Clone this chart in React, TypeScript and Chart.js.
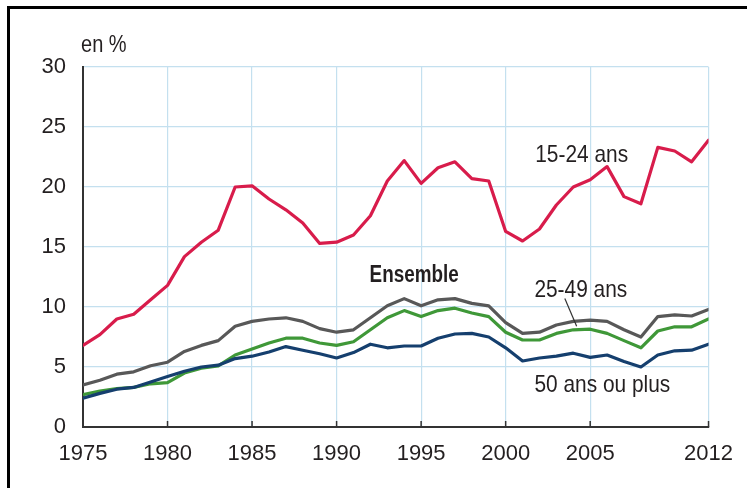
import { useEffect, useRef } from "react";
import { Chart, registerables } from "chart.js";

Chart.register(...registerables);

const years = [
  1975, 1976, 1977, 1978, 1979, 1980, 1981, 1982, 1983, 1984,
  1985, 1986, 1987, 1988, 1989, 1990, 1991, 1992, 1993, 1994,
  1995, 1996, 1997, 1998, 1999, 2000, 2001, 2002, 2003, 2004,
  2005, 2006, 2007, 2008, 2009, 2010, 2011, 2012,
];

const jeunes = [
  6.8, 7.7, 9.0, 9.4, 10.6, 11.8, 14.2, 15.4, 16.4, 20.0,
  20.1, 19.0, 18.1, 17.0, 15.3, 15.4, 16.0, 17.6, 20.5, 22.2,
  20.3, 21.6, 22.1, 20.7, 20.5, 16.3, 15.5, 16.5, 18.5, 20.0,
  20.6, 21.7, 19.2, 18.6, 23.3, 23.0, 22.1, 23.9,
];

const ensemble = [
  3.5, 3.9, 4.4, 4.6, 5.1, 5.4, 6.3, 6.8, 7.2, 8.4,
  8.8, 9.0, 9.1, 8.8, 8.2, 7.9, 8.1, 9.1, 10.1, 10.7,
  10.1, 10.6, 10.7, 10.3, 10.1, 8.7, 7.8, 7.9, 8.5, 8.8,
  8.9, 8.8, 8.1, 7.5, 9.2, 9.35, 9.25, 9.8,
];

const adultes = [
  2.7, 3.0, 3.2, 3.3, 3.6, 3.7, 4.5, 4.9, 5.1, 6.0,
  6.5, 7.0, 7.4, 7.4, 7.0, 6.8, 7.1, 8.1, 9.1, 9.7,
  9.2, 9.7, 9.9, 9.5, 9.2, 7.9, 7.25, 7.25, 7.8, 8.1,
  8.15, 7.8, 7.2, 6.6, 8.0, 8.35, 8.35, 9.0,
];

const seniors = [
  2.4, 2.8, 3.15, 3.3, 3.75, 4.2, 4.65, 5.0, 5.15, 5.7,
  5.9, 6.25, 6.7, 6.4, 6.1, 5.75, 6.2, 6.9, 6.6, 6.75,
  6.75, 7.4, 7.75, 7.8, 7.5, 6.6, 5.5, 5.75, 5.9, 6.15,
  5.8, 6.0, 5.45, 5.0, 6.0, 6.35, 6.4, 6.9,
];

const xTickYears = [1975, 1980, 1985, 1990, 1995, 2000, 2005, 2012];
const yTicks = [0, 5, 10, 15, 20, 25, 30];

const FONT = "'Liberation Sans', Arial, Helvetica, sans-serif";
const TEXT = "#231f20";

// annotation texts placed in data coordinates
const annotations = [
  { text: "15-24 ans", x: 2001.75, y: 22.65, bold: false },
  { text: "Ensemble", x: 1991.95, y: 12.65, bold: true },
  { text: "25-49 ans", x: 2001.7, y: 11.4, bold: false },
  { text: "50 ans ou plus", x: 2001.7, y: 3.5, bold: false },
];
const leader = { x1: 2003.5, y1: 10.7, x2: 2004.2, y2: 8.4 };

const overlayPlugin = {
  id: "overlay",
  afterDatasetsDraw(chart: any) {
    const ctx = chart.ctx;
    const xs = chart.scales.x;
    const ys = chart.scales.y;
    ctx.save();
    // inner tick marks on x axis
    ctx.strokeStyle = "#333";
    ctx.lineWidth = 1.5;
    const bottom = ys.getPixelForValue(0);
    xTickYears.forEach((yr) => {
      if (yr === xTickYears[0]) return;
      const px = xs.getPixelForValue(yr);
      ctx.beginPath();
      ctx.moveTo(px, bottom);
      ctx.lineTo(px, bottom - 6);
      ctx.stroke();
    });
    // leader line
    ctx.strokeStyle = "#333";
    ctx.lineWidth = 1.2;
    ctx.beginPath();
    ctx.moveTo(xs.getPixelForValue(leader.x1), ys.getPixelForValue(leader.y1));
    ctx.lineTo(xs.getPixelForValue(leader.x2), ys.getPixelForValue(leader.y2));
    ctx.stroke();
    // texts (condensed look)
    ctx.fillStyle = TEXT;
    ctx.textAlign = "left";
    ctx.textBaseline = "middle";
    annotations.forEach((a) => {
      ctx.save();
      ctx.translate(xs.getPixelForValue(a.x), ys.getPixelForValue(a.y));
      ctx.scale(a.bold ? 0.82 : 0.87, 1);
      ctx.font = `${a.bold ? "bold 23px" : "24px"} ${FONT}`;
      ctx.fillText(a.text, 0, 0);
      ctx.restore();
    });
    // unit label
    ctx.save();
    ctx.translate(xs.left - 2, ys.top - 21);
    ctx.scale(0.87, 1);
    ctx.font = `23px ${FONT}`;
    ctx.fillText("en %", 0, 0);
    ctx.restore();
    ctx.restore();
  },
};

export default function App() {
  const ref = useRef<HTMLCanvasElement | null>(null);

  useEffect(() => {
    if (!ref.current) return;
    const mk = (vals: number[]) => years.map((yr, i) => ({ x: yr, y: vals[i] }));
    const chart = new Chart(ref.current, {
      type: "line",
      data: {
        datasets: [
          { label: "15-24 ans", data: mk(jeunes), borderColor: "#d81c4b", borderWidth: 3.2, order: 1 },
          { label: "Ensemble", data: mk(ensemble), borderColor: "#585858", borderWidth: 3.2, order: 2 },
          { label: "50 ans ou plus", data: mk(seniors), borderColor: "#153f6e", borderWidth: 3.2, order: 3 },
          { label: "25-49 ans", data: mk(adultes), borderColor: "#3f9838", borderWidth: 3.2, order: 4 },
        ],
      },
      options: {
        animation: false,
        responsive: false,
        maintainAspectRatio: false,
        elements: { point: { radius: 0 }, line: { tension: 0, borderCapStyle: "round", borderJoinStyle: "round" } },
        layout: { padding: { left: 0, top: 67, right: 32, bottom: 21 } },
        plugins: { legend: { display: false }, tooltip: { enabled: false } },
        scales: {
          x: {
            type: "linear",
            min: 1975,
            max: 2012,
            afterBuildTicks: (s: any) => {
              s.ticks = xTickYears.map((v) => ({ value: v }));
            },
            afterFit: (s: any) => {
              s.height = 40;
            },
            grid: { color: "#c4e0ef", lineWidth: 1.2, drawTicks: false },
            border: { display: true, color: "#333", width: 2 },
            ticks: {
              font: { family: FONT, size: 22 },
              color: TEXT,
              padding: 14,
              maxRotation: 0,
              autoSkip: false,
              callback: (v: any) => String(v),
            },
          },
          y: {
            min: 0,
            max: 30,
            afterBuildTicks: (s: any) => {
              s.ticks = yTicks.map((v) => ({ value: v }));
            },
            afterFit: (s: any) => {
              s.width = 83;
            },
            grid: { color: "#c4e0ef", lineWidth: 1.2, drawTicks: false },
            border: { display: true, color: "#333", width: 2 },
            ticks: {
              font: { family: FONT, size: 22 },
              color: TEXT,
              padding: 17,
              callback: (v: any) => String(v),
            },
          },
        },
      },
      plugins: [overlayPlugin],
    });
    return () => chart.destroy();
  }, []);

  return (
    <div style={{ position: "fixed", left: 0, top: 0, width: 747, height: 488, background: "#fff", overflow: "hidden" }}>
      <div
        style={{
          position: "absolute",
          left: 7,
          top: 6,
          width: 800,
          height: 600,
          borderTop: "3px solid #000",
          borderLeft: "3px solid #000",
          boxSizing: "border-box",
        }}
      />
      <canvas ref={ref} width={747} height={488} style={{ position: "absolute", left: 0, top: 0 }} />
    </div>
  );
}
